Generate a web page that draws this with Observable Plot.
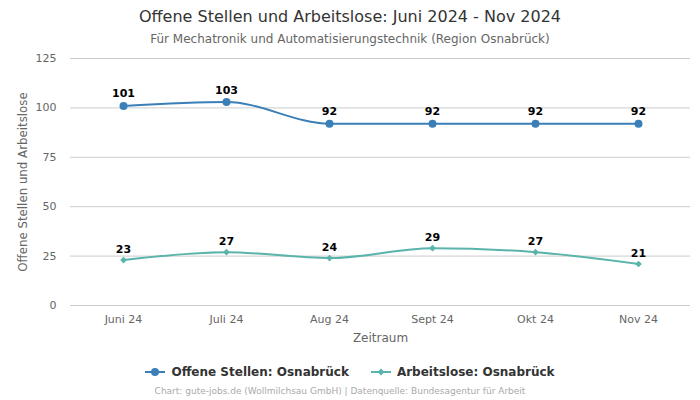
<!DOCTYPE html>
<html><head><meta charset="utf-8">
<script src="https://cdn.jsdelivr.net/npm/d3@7"></script>
<script src="https://cdn.jsdelivr.net/npm/@observablehq/plot@0.6"></script>
<style>
body{margin:0;font-family:"DejaVu Sans",sans-serif;background:#fff;width:700px;height:400px;overflow:hidden}
#title{height:50px;text-align:center;position:relative}
#title .t{position:absolute;left:0;right:0;top:7px;font-size:16px;color:#333}
#title .s{position:absolute;left:0;right:0;top:32px;font-size:12px;color:#666}
#legend{display:flex;justify-content:center;gap:22px;font-size:12px;font-weight:bold;color:#333;margin-top:15px}
#legend span.i{display:flex;align-items:center;gap:6px}
#caption{text-align:center;font-size:9px;color:#aaa;margin-top:7px;padding-right:20px}
</style></head><body>
<div id="title"><div class="t">Offene Stellen und Arbeitslose: Juni 2024 - Nov 2024</div><div class="s">Für Mechatronik und Automatisierungstechnik (Region Osnabrück)</div></div>
<div id="chart"></div>
<div id="legend"></div>
<div id="caption">Chart: gute-jobs.de (Wollmilchsau GmbH) | Datenquelle: Bundesagentur für Arbeit</div>
<script>
const months = ["Juni 24","Juli 24","Aug 24","Sept 24","Okt 24","Nov 24"];
const offeneStellen = [101,103,92,92,92,92];
const arbeitslose = [23,27,24,29,27,21];
const seriesNames = ["Offene Stellen: Osnabrück","Arbeitslose: Osnabrück"];
const colors = ["#3a7fb8","#5ab4ac"];
const yTicks = [0,25,50,75,100,125];

const os = months.map((m,i)=>({m, v:offeneStellen[i]}));
const al = months.map((m,i)=>({m, v:arbeitslose[i]}));

const plot = Plot.plot({
  width:700, height:300,
  marginTop:8, marginBottom:45, marginLeft:70, marginRight:10,
  style:{fontFamily:"DejaVu Sans, sans-serif", fontSize:"11px", color:"#666"},
  x:{type:"point", domain:months, padding:0.5, label:"Zeitraum", labelAnchor:"center", labelOffset:36, tickSize:0, tickPadding:10},
  y:{domain:[0,125], ticks:yTicks, label:"Offene Stellen und Arbeitslose", labelArrow:"none", labelAnchor:"center", labelOffset:52, tickSize:0, tickPadding:14},
  marks:[
    Plot.gridY(yTicks,{stroke:"#ccc", strokeOpacity:1}),
    Plot.line(os,{x:"m",y:"v",stroke:colors[0],strokeWidth:2,curve:"monotone-x"}),
    Plot.dot(os,{x:"m",y:"v",fill:colors[0],r:4}),
    Plot.line(al,{x:"m",y:"v",stroke:colors[1],strokeWidth:2,curve:"monotone-x"}),
    Plot.dot(al,{x:"m",y:"v",fill:colors[1],r:3,symbol:"diamond2"}),
    Plot.text(os,{x:"m",y:"v",text:d=>String(d.v),dy:-12,fill:"#000",fontWeight:"bold",fontSize:11}),
    Plot.text(al,{x:"m",y:"v",text:d=>String(d.v),dy:-11,fill:"#000",fontWeight:"bold",fontSize:11})
  ]
});
plot.querySelectorAll("[aria-label='x-axis label'] text").forEach(t=>t.setAttribute("font-size","12px"));
plot.querySelectorAll("[aria-label='y-axis label'] text").forEach(t=>t.setAttribute("font-size","11.8px"));
plot.querySelectorAll("[aria-label='x-axis label'] text, [aria-label='y-axis label'] text").forEach(t=>{
  t.textContent = t.textContent.replace(/\s*[↑→←↓]\s*/g,"");
});
document.getElementById("chart").appendChild(plot);

const lg = document.getElementById("legend");
seriesNames.forEach((n,i)=>{
  const s=document.createElement("span");s.className="i";
  const mk = i===0
    ? `<svg width="20" height="10"><line x1="0" y1="5" x2="20" y2="5" stroke="${colors[i]}" stroke-width="2"/><circle cx="10" cy="5" r="4" fill="${colors[i]}"/></svg>`
    : `<svg width="20" height="10"><line x1="0" y1="5" x2="20" y2="5" stroke="${colors[i]}" stroke-width="2"/><path d="M10 1.5L13.5 5L10 8.5L6.5 5Z" fill="${colors[i]}"/></svg>`;
  s.innerHTML = mk + `<span>${n}</span>`;
  lg.appendChild(s);
});
</script>
</body></html>
